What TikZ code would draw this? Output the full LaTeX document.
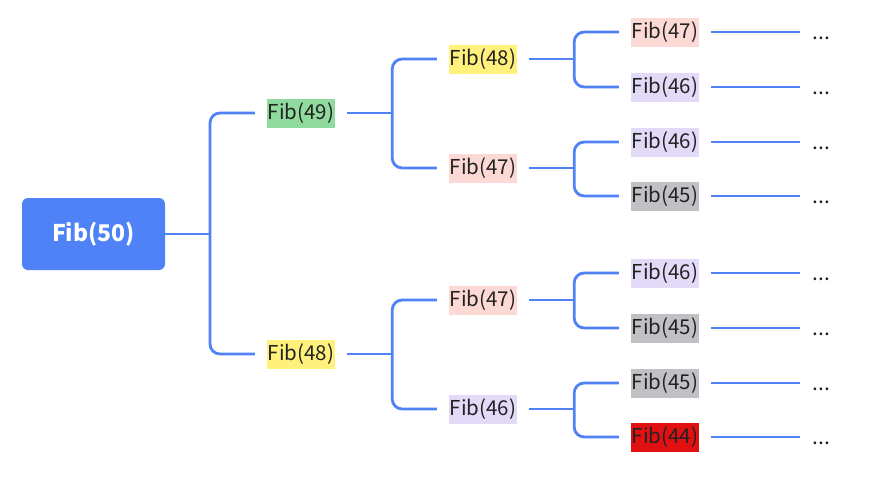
\documentclass[tikz,border=0pt]{standalone}
\usepackage{fontspec}
\setmainfont{Noto Sans CJK SC}
\usetikzlibrary{calc}
\definecolor{linkblue}{HTML}{5082F6}
\definecolor{rootblue}{HTML}{4F81F7}
\definecolor{cgreen}{HTML}{8FDA9C}
\definecolor{cyellow}{HTML}{FFF17C}
\definecolor{cpink}{HTML}{FDD9D5}
\definecolor{cviolet}{HTML}{E3DAF8}
\definecolor{cgray}{HTML}{BFC1C4}
\definecolor{cred}{HTML}{E11111}
\definecolor{ink}{HTML}{222222}
\begin{document}
\begin{tikzpicture}[x=1pt,y=-1pt,
  conn/.style={draw=linkblue, line width=2.8pt, rounded corners=10pt},
  fib/.style={minimum width=68pt, minimum height=29pt, inner sep=0pt,
    text=ink, font=\fontsize{20.5}{24}\selectfont, text height=13.5pt, text depth=0pt},
  rootbox/.style={fill=rootblue, rounded corners=6pt, minimum width=143pt,
    minimum height=72pt, inner sep=0pt, text=white, text height=15.5pt, text depth=0pt,
    font=\fontsize{23}{26}\selectfont\bfseries},
  more/.style={text=ink, font=\fontsize{21}{24}\selectfont, inner sep=0pt, anchor=base west}
]
\useasboundingbox (0,0) rectangle (891,479);

% root
\node[rootbox] (r) at (93.5,234) {Fib(50)};

% first level
\node[fib, fill=cgreen]  (a) at (301,113) {Fib(49)};
\node[fib, fill=cyellow] (b) at (301,354) {Fib(48)};

% second level
\node[fib, fill=cyellow] (aa) at (483,59)  {Fib(48)};
\node[fib, fill=cpink]   (ab) at (483,168) {Fib(47)};
\node[fib, fill=cpink]   (ba) at (483,300) {Fib(47)};
\node[fib, fill=cviolet] (bb) at (483,409) {Fib(46)};

% third level
\node[fib, fill=cpink]   (aaa) at (665,32)  {Fib(47)};
\node[fib, fill=cviolet] (aab) at (665,87)  {Fib(46)};
\node[fib, fill=cviolet] (aba) at (665,142) {Fib(46)};
\node[fib, fill=cgray]   (abb) at (665,196) {Fib(45)};
\node[fib, fill=cviolet] (baa) at (665,273) {Fib(46)};
\node[fib, fill=cgray]   (bab) at (665,328) {Fib(45)};
\node[fib, fill=cgray]   (bba) at (665,383) {Fib(45)};
\node[fib, fill=cred]    (bbb) at (665,437) {Fib(44)};

% root fork
\coordinate (jr) at (210,234);
\draw[conn] (r.east) -- (jr);
\draw[conn] ([xshift=-12pt]a.west) -| (jr) |- ([xshift=-12pt]b.west);

% second-level forks
\foreach \p/\u/\l in {a/aa/ab, b/ba/bb}{
  \coordinate (j\p) at ($(\p.east)+(57,0)$);
  \draw[conn] ([xshift=12pt]\p.east) -- (j\p);
  \draw[conn] ([xshift=-12pt]\u.west) -| (j\p) |- ([xshift=-12pt]\l.west);
}

% third-level forks
\foreach \p/\u/\l in {aa/aaa/aab, ab/aba/abb, ba/baa/bab, bb/bba/bbb}{
  \coordinate (j\p) at ($(\p.east)+(57,0)$);
  \draw[conn] ([xshift=12pt]\p.east) -- (j\p);
  \draw[conn] ([xshift=-12pt]\u.west) -| (j\p) |- ([xshift=-12pt]\l.west);
}

% leaves continue
\foreach \n in {aaa,aab,aba,abb,baa,bab,bba,bbb}{
  \coordinate (e\n) at ($(\n.east)+(101,0)$);
  \draw[conn] ([xshift=12pt]\n.east) -- (e\n);
  \node[more] (m\n) at ($(e\n)+(12,7)$) {...};
}
\end{tikzpicture}
\end{document}
